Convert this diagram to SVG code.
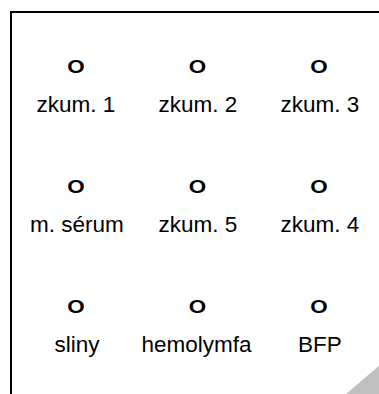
<svg xmlns="http://www.w3.org/2000/svg" width="379" height="394" viewBox="0 0 379 394">
<style>
.mk{font-family:"Liberation Sans",Arial,sans-serif;font-size:19px;font-weight:bold;fill:#000;text-anchor:middle}
.lb{font-family:"Liberation Sans",Arial,sans-serif;font-size:22.5px;fill:#000;text-anchor:middle}
</style>
<rect width="379" height="394" fill="#fff"/>
<path d="M11,394 V12 H379" fill="none" stroke="#000" stroke-width="2"/>
<polygon points="346,394 379,394 379,365.7" fill="#c0c0c0"/>
<g id="n1"><text class="mk" transform="translate(76,72.5) scale(1.18,1)">O</text><text class="lb" x="76" y="111.5">zkum. 1</text></g>
<g id="n2"><text class="mk" transform="translate(197.5,72.5) scale(1.18,1)">O</text><text class="lb" x="198" y="111.5">zkum. 2</text></g>
<g id="n3"><text class="mk" transform="translate(319,72.5) scale(1.18,1)">O</text><text class="lb" x="320" y="111.5">zkum. 3</text></g>
<g id="n4"><text class="mk" transform="translate(76,192.5) scale(1.18,1)">O</text><text class="lb" x="77" y="231.5">m. sérum</text></g>
<g id="n5"><text class="mk" transform="translate(197.5,192.5) scale(1.18,1)">O</text><text class="lb" x="198" y="231.5">zkum. 5</text></g>
<g id="n6"><text class="mk" transform="translate(319,192.5) scale(1.18,1)">O</text><text class="lb" x="320" y="231.5">zkum. 4</text></g>
<g id="n7"><text class="mk" transform="translate(76,312.5) scale(1.18,1)">O</text><text class="lb" x="77" y="351.5">sliny</text></g>
<g id="n8"><text class="mk" transform="translate(197.5,312.5) scale(1.18,1)">O</text><text class="lb" x="196.5" y="351.5">hemolymfa</text></g>
<g id="n9"><text class="mk" transform="translate(319,312.5) scale(1.18,1)">O</text><text class="lb" x="320" y="351.5">BFP</text></g>
<g id="connectors"/>
</svg>
